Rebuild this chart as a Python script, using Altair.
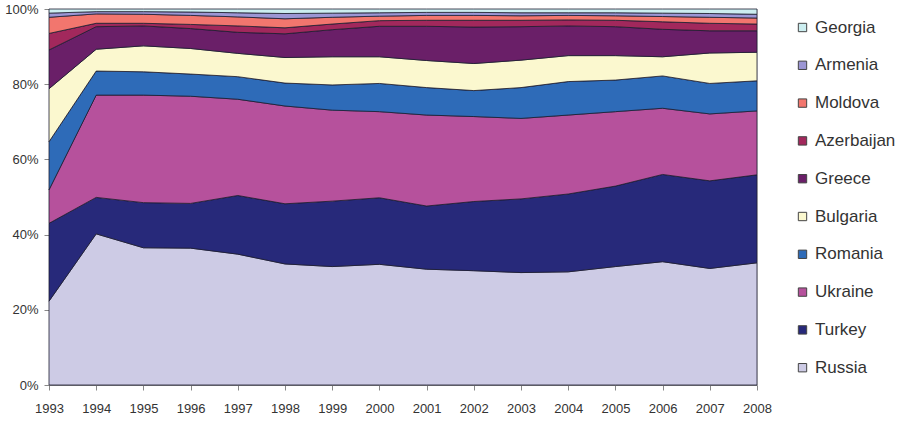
import altair as alt
import pandas as pd

years = list(range(1993, 2009))

# Share of each country per year (percent), bottom of the stack first
russia     = [22.3, 40.2, 36.5, 36.4, 34.8, 32.2, 31.5, 32.1, 30.8, 30.4, 29.9, 30.1, 31.5, 32.8, 31.0, 32.5]
turkey     = [20.7,  9.7, 12.0, 11.9, 15.6, 16.0, 17.4, 17.7, 16.8, 18.4, 19.6, 20.7, 21.4, 23.2, 23.3, 23.4]
ukraine    = [ 8.9, 27.2, 28.6, 28.5, 25.6, 26.0, 24.2, 22.9, 24.2, 22.6, 21.4, 21.0, 19.8, 17.6, 17.8, 17.0]
romania    = [12.8,  6.4,  6.2,  5.9,  6.0,  6.1,  6.7,  7.5,  7.3,  6.9,  8.2,  8.9,  8.4,  8.6,  8.1,  8.0]
bulgaria   = [14.1,  5.8,  6.9,  6.8,  6.2,  6.8,  7.5,  7.1,  7.2,  7.2,  7.3,  6.9,  6.5,  5.1,  8.1,  7.6]
greece     = [10.3,  6.0,  5.3,  5.3,  5.6,  6.3,  7.2,  8.1,  9.1,  9.7,  8.9,  7.9,  7.7,  7.3,  5.9,  5.7]
azerbaijan = [ 4.4,  0.9,  0.7,  1.1,  1.7,  1.6,  1.5,  1.5,  1.6,  1.8,  1.7,  1.6,  1.7,  2.0,  2.0,  1.8]
moldova    = [ 4.3,  2.5,  2.4,  2.4,  2.4,  2.4,  1.8,  1.2,  1.3,  1.3,  1.2,  1.2,  1.2,  1.4,  1.6,  1.6]
armenia    = [ 1.1,  0.6,  0.7,  0.9,  1.1,  1.4,  1.1,  0.9,  0.8,  0.8,  0.8,  0.7,  0.8,  0.9,  1.0,  1.0]
georgia    = [ 1.1,  0.7,  0.7,  0.8,  1.0,  1.2,  1.1,  1.0,  0.9,  0.9,  1.0,  1.0,  1.0,  1.1,  1.2,  1.4]

countries = ["Russia", "Turkey", "Ukraine", "Romania", "Bulgaria",
             "Greece", "Azerbaijan", "Moldova", "Armenia", "Georgia"]
series = [russia, turkey, ukraine, romania, bulgaria,
          greece, azerbaijan, moldova, armenia, georgia]
colors = ["#CDCBE5", "#27297A", "#B6519C", "#2E6BB8", "#FBF8CF",
          "#6A1F68", "#A2285C", "#F2766E", "#9C96D4", "#CCEEF0"]

rows = []
for i, (name, vals) in enumerate(zip(countries, series)):
    for y, v in zip(years, vals):
        rows.append({"Year": y, "Country": name, "Share": v, "idx": i})
df = pd.DataFrame(rows)

legend_order = countries[::-1]
legend_colors = colors[::-1]

chart = alt.Chart(df).mark_area(
    stroke="#1c1c30", strokeWidth=0.8, strokeJoin="round"
).encode(
    x=alt.X("Year:Q",
            scale=alt.Scale(domain=[1993, 2008], nice=False, zero=False),
            axis=alt.Axis(values=years, format="d", title=None, grid=False,
                          labelFontSize=13, labelColor="#333333",
                          domainColor="#888888", tickColor="#888888",
                          tickSize=5, labelPadding=12, labelFlush=False)),
    y=alt.Y("Share:Q", stack="normalize",
            scale=alt.Scale(domain=[0, 1]),
            axis=alt.Axis(values=[0, 0.2, 0.4, 0.6, 0.8, 1.0], format=".0%",
                          title=None, grid=False,
                          labelFontSize=13, labelColor="#333333",
                          domainColor="#888888", tickColor="#888888",
                          tickSize=5, labelPadding=6)),
    color=alt.Color("Country:N",
                    scale=alt.Scale(domain=legend_order, range=legend_colors),
                    legend=alt.Legend(orient="none", legendX=745, legendY=10,
                                      title=None, symbolType="square",
                                      symbolSize=70, symbolStrokeColor="#444444",
                                      symbolStrokeWidth=1, labelFontSize=17,
                                      labelColor="#333333", rowPadding=19.8,
                                      labelOffset=4)),
    order=alt.Order("idx:Q", sort="ascending"),
).properties(
    width=708, height=376,
    padding={"left": 49, "top": 9, "right": 147, "bottom": 41},
    autosize=alt.AutoSizeParams(type="none"),
).configure_view(
    stroke="#999999", strokeWidth=1
).configure(
    font="Liberation Sans", background="white"
)

chart.save("out.html", embed_options={"renderer": "svg", "actions": False})
